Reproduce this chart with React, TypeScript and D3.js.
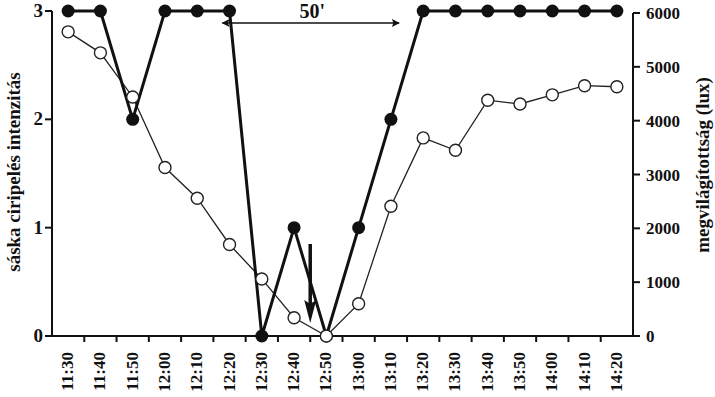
import { useEffect, useRef } from "react";
import * as d3 from "d3";

const times = [
  "11:30", "11:40", "11:50", "12:00", "12:10", "12:20", "12:30", "12:40", "12:50",
  "13:00", "13:10", "13:20", "13:30", "13:40", "13:50", "14:00", "14:10", "14:20",
];
// chirping intensity (left axis)
const chirp = [3, 3, 2, 3, 3, 3, 0, 1, 0, 1, 2, 3, 3, 3, 3, 3, 3, 3];
// illuminance in lux (right axis)
const lux = [
  5650, 5260, 4440, 3130, 2560, 1700, 1060, 340, 0, 600, 2410, 3680, 3450, 4380,
  4310, 4480, 4650, 4630,
];
const leftTicks = [0, 1, 2, 3];
const rightTicks = [0, 1000, 2000, 3000, 4000, 5000, 6000];

const W = 715;
const H = 397;
const FONT = "'Liberation Serif', 'DejaVu Serif', serif";

export default function App() {
  const ref = useRef<SVGSVGElement>(null);

  useEffect(() => {
    if (!ref.current) return;
    const svg = d3.select(ref.current);
    svg.selectAll("*").remove();

    const left = 52;
    const right = 633;
    const bottom = 336;

    const x = d3.scaleBand<string>().domain(times).range([left, right]);
    const cx = (t: string) => (x(t) ?? 0) + x.bandwidth() / 2;
    const yL = d3.scaleLinear().domain([0, 3]).range([bottom, 11]);
    const yR = d3.scaleLinear().domain([0, 6000]).range([bottom, 13]);

    // arrowhead marker
    svg
      .append("defs")
      .append("marker")
      .attr("id", "ah")
      .attr("viewBox", "0 0 10 10")
      .attr("refX", 9)
      .attr("refY", 5)
      .attr("markerWidth", 11)
      .attr("markerHeight", 8)
      .attr("markerUnits", "userSpaceOnUse")
      .attr("orient", "auto-start-reverse")
      .append("path")
      .attr("d", "M0,0 L10,5 L0,10 L2,5 Z")
      .attr("fill", "#111");

    // x axis
    svg
      .append("line")
      .attr("x1", left)
      .attr("x2", right)
      .attr("y1", bottom)
      .attr("y2", bottom)
      .attr("stroke", "#111")
      .attr("stroke-width", 2);
    svg
      .append("g")
      .selectAll("line")
      .data(times.slice(1))
      .join("line")
      .attr("x1", (d) => x(d) ?? 0)
      .attr("x2", (d) => x(d) ?? 0)
      .attr("y1", bottom)
      .attr("y2", bottom + 6)
      .attr("stroke", "#111")
      .attr("stroke-width", 2);
    svg
      .append("g")
      .selectAll("text")
      .data(times)
      .join("text")
      .attr("transform", (d) => `translate(${cx(d) + 5},${bottom + 16}) rotate(-90)`)
      .attr("text-anchor", "end")
      .attr("font-family", FONT)
      .attr("font-weight", "bold")
      .attr("font-size", 17)
      .attr("fill", "#111")
      .text((d) => d);

    // left axis
    svg
      .append("line")
      .attr("x1", left)
      .attr("x2", left)
      .attr("y1", yL(3))
      .attr("y2", bottom)
      .attr("stroke", "#111")
      .attr("stroke-width", 2);
    const gl = svg.append("g");
    gl.selectAll("line")
      .data(leftTicks)
      .join("line")
      .attr("x1", left - 7)
      .attr("x2", left)
      .attr("y1", (d) => yL(d))
      .attr("y2", (d) => yL(d))
      .attr("stroke", "#111")
      .attr("stroke-width", 2);
    gl.selectAll("text")
      .data(leftTicks)
      .join("text")
      .attr("x", left - 9)
      .attr("y", (d) => yL(d) + 6)
      .attr("text-anchor", "end")
      .attr("font-family", FONT)
      .attr("font-weight", "bold")
      .attr("font-size", 19)
      .attr("fill", "#111")
      .text((d) => d);

    // right axis
    svg
      .append("line")
      .attr("x1", right)
      .attr("x2", right)
      .attr("y1", yR(6000))
      .attr("y2", bottom)
      .attr("stroke", "#111")
      .attr("stroke-width", 2);
    const gr = svg.append("g");
    gr.selectAll("line")
      .data(rightTicks)
      .join("line")
      .attr("x1", right)
      .attr("x2", right + 7)
      .attr("y1", (d) => yR(d))
      .attr("y2", (d) => yR(d))
      .attr("stroke", "#111")
      .attr("stroke-width", 2);
    gr.selectAll("text")
      .data(rightTicks)
      .join("text")
      .attr("x", right + 13)
      .attr("y", (d) => yR(d) + 6)
      .attr("text-anchor", "start")
      .attr("font-family", FONT)
      .attr("font-weight", "bold")
      .attr("font-size", 17)
      .attr("fill", "#111")
      .text((d) => d);

    // axis titles
    svg
      .append("text")
      .attr("transform", `translate(20,172) rotate(-90)`)
      .attr("text-anchor", "middle")
      .attr("font-family", FONT)
      .attr("font-weight", "bold")
      .attr("font-size", 19)
      .attr("fill", "#111")
      .text("sáska ciripelés intenzitás");
    svg
      .append("text")
      .attr("transform", `translate(709,165) rotate(-90)`)
      .attr("text-anchor", "middle")
      .attr("font-family", FONT)
      .attr("font-weight", "bold")
      .attr("font-size", 19)
      .attr("fill", "#111")
      .text("megvilágítottság (lux)");

    // lux series (open circles, thin line)
    const luxLine = d3
      .line<number>()
      .x((_, i) => cx(times[i]))
      .y((d) => yR(d));
    svg
      .append("path")
      .datum(lux)
      .attr("d", luxLine)
      .attr("fill", "none")
      .attr("stroke", "#222")
      .attr("stroke-width", 1.3);

    // chirp series (filled circles, thick line)
    const chirpLine = d3
      .line<number>()
      .x((_, i) => cx(times[i]))
      .y((d) => yL(d));
    svg
      .append("path")
      .datum(chirp)
      .attr("d", chirpLine)
      .attr("fill", "none")
      .attr("stroke", "#111")
      .attr("stroke-width", 3);
    svg
      .append("g")
      .selectAll("circle")
      .data(chirp)
      .join("circle")
      .attr("cx", (_, i) => cx(times[i]))
      .attr("cy", (d) => yL(d))
      .attr("r", 6.5)
      .attr("fill", "#111");

    svg
      .append("g")
      .selectAll("circle")
      .data(lux)
      .join("circle")
      .attr("cx", (_, i) => cx(times[i]))
      .attr("cy", (d) => yR(d))
      .attr("r", 6)
      .attr("fill", "#fff")
      .attr("stroke", "#222")
      .attr("stroke-width", 1.4);

    // 50' duration annotation
    const xa = x("12:20") ?? 0;
    const xb = (x("13:10") ?? 0) + x.bandwidth();
    svg
      .append("line")
      .attr("x1", xa + 9)
      .attr("x2", xb - 8)
      .attr("y1", 23)
      .attr("y2", 23)
      .attr("stroke", "#111")
      .attr("stroke-width", 1.6)
      .attr("marker-start", "url(#ah)")
      .attr("marker-end", "url(#ah)");
    svg
      .append("text")
      .attr("x", (xa + xb) / 2 + 2)
      .attr("y", 18)
      .attr("text-anchor", "middle")
      .attr("font-family", FONT)
      .attr("font-weight", "bold")
      .attr("font-size", 20)
      .attr("fill", "#111")
      .text("50'");

    // downward arrow marking totality
    const xd = x("12:50") ?? 0;
    svg
      .append("line")
      .attr("x1", xd)
      .attr("x2", xd)
      .attr("y1", 244)
      .attr("y2", 304)
      .attr("stroke", "#111")
      .attr("stroke-width", 3.5);
    svg
      .append("path")
      .attr("d", `M${xd - 6},300 L${xd},304 L${xd + 6},300 L${xd},323 Z`)
      .attr("fill", "#111");
  }, []);

  return (
    <svg
      ref={ref}
      width={W}
      height={H}
      style={{ position: "absolute", left: 0, top: 0, background: "#fff" }}
    />
  );
}
